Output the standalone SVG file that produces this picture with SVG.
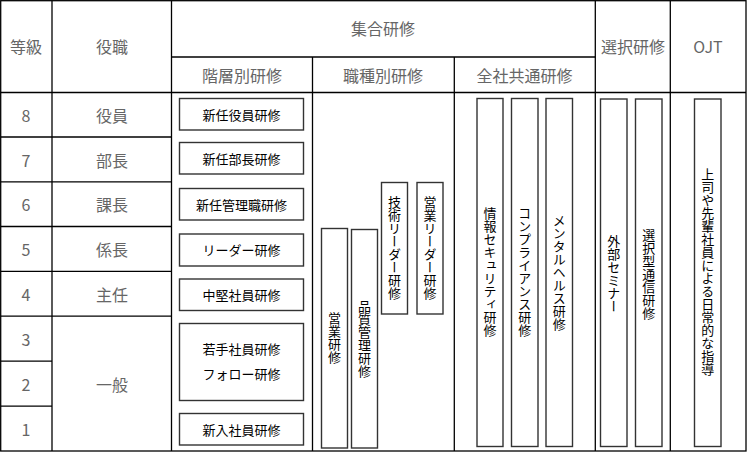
<svg xmlns="http://www.w3.org/2000/svg" width="747" height="453" viewBox="0 0 747 453">
<style>
.g{stroke:#000;stroke-width:1.3;fill:none}
.h{font-family:"Noto Sans CJK JP","Liberation Sans",sans-serif;font-size:16px;fill:#666;text-anchor:middle;dominant-baseline:central}
.b{fill:#fff;stroke:#333;stroke-width:1.4}
.t{font-family:"Noto Sans CJK JP","Liberation Sans",sans-serif;font-size:13px;fill:#000;text-anchor:middle;dominant-baseline:central}
.v{font-family:"Noto Sans CJK JP","Liberation Sans",sans-serif;font-size:13px;fill:#000;text-anchor:middle;writing-mode:vertical-rl}
</style>
<rect width="747" height="453" fill="#fff"/>
<g id="grid" class="g">
<rect x="0.7" y="0.7" width="745.3" height="450.3"/>
<line x1="52" y1="0.7" x2="52" y2="451"/>
<line x1="171.5" y1="0.7" x2="171.5" y2="451"/>
<line x1="312.5" y1="57" x2="312.5" y2="451"/>
<line x1="454.3" y1="57" x2="454.3" y2="451"/>
<line x1="595.3" y1="0.7" x2="595.3" y2="451"/>
<line x1="670.3" y1="0.7" x2="670.3" y2="451"/>
<line x1="171.5" y1="57" x2="595.3" y2="57"/>
<line x1="0.7" y1="92.5" x2="746" y2="92.5"/>
<line x1="0.7" y1="137" x2="171.5" y2="137"/>
<line x1="0.7" y1="181.8" x2="171.5" y2="181.8"/>
<line x1="0.7" y1="226.5" x2="171.5" y2="226.5"/>
<line x1="0.7" y1="271.3" x2="171.5" y2="271.3"/>
<line x1="0.7" y1="316.2" x2="171.5" y2="316.2"/>
<line x1="0.7" y1="361.2" x2="52" y2="361.2"/>
<line x1="0.7" y1="406.2" x2="52" y2="406.2"/>
</g>
<g id="headers">
<text class="h" x="26" y="46">等級</text>
<text class="h" x="112" y="46">役職</text>
<text class="h" x="383" y="28">集合研修</text>
<text class="h" x="242" y="75">階層別研修</text>
<text class="h" x="383" y="75">職種別研修</text>
<text class="h" x="524.5" y="75">全社共通研修</text>
<text class="h" x="633" y="46">選択研修</text>
<text class="h" x="708" y="46">OJT</text>
</g>
<g id="grades">
<text class="h" x="26" y="115">8</text>
<text class="h" x="26" y="159.5">7</text>
<text class="h" x="26" y="204">6</text>
<text class="h" x="26" y="249">5</text>
<text class="h" x="26" y="294">4</text>
<text class="h" x="26" y="339">3</text>
<text class="h" x="26" y="384">2</text>
<text class="h" x="26" y="429">1</text>
</g>
<g id="roles">
<text class="h" x="112" y="115">役員</text>
<text class="h" x="112" y="159.5">部長</text>
<text class="h" x="112" y="204">課長</text>
<text class="h" x="112" y="249">係長</text>
<text class="h" x="112" y="294">主任</text>
<text class="h" x="112" y="384">一般</text>
</g>
<g id="n-yakuin"><rect class="b" x="179.5" y="98.5" width="124" height="31.5"/><text class="t" x="241.5" y="114">新任役員研修</text></g>
<g id="n-bucho"><rect class="b" x="179.5" y="142.5" width="124" height="31.5"/><text class="t" x="241.5" y="158">新任部長研修</text></g>
<g id="n-kanri"><rect class="b" x="179.5" y="188.5" width="124" height="31.5"/><text class="t" x="241.5" y="204">新任管理職研修</text></g>
<g id="n-leader"><rect class="b" x="179.5" y="234" width="124" height="32"/><text class="t" x="241.5" y="249.5">リーダー研修</text></g>
<g id="n-chuken"><rect class="b" x="179.5" y="279" width="124" height="31.5"/><text class="t" x="241.5" y="294.5">中堅社員研修</text></g>
<g id="n-wakate"><rect class="b" x="179.5" y="323.5" width="124" height="77"/><text class="t" x="241.5" y="348">若手社員研修</text><text class="t" x="241.5" y="373">フォロー研修</text></g>
<g id="n-shinnyu"><rect class="b" x="179.5" y="413.5" width="124" height="31.5"/><text class="t" x="241.5" y="429">新入社員研修</text></g>
<g id="n-eigyo"><rect class="b" x="321.5" y="228.5" width="26" height="219.5"/><text class="v" x="334.5" y="338">営業研修</text></g>
<g id="n-hinshitsu"><rect class="b" x="351.5" y="229.5" width="26" height="218.5"/><text class="v" x="364.5" y="338.5">品質管理研修</text></g>
<g id="n-gijutsu"><rect class="b" x="381.5" y="182.5" width="26" height="131.5"/><text class="v" x="394.5" y="248">技術リーダー研修</text></g>
<g id="n-eigyoleader"><rect class="b" x="417" y="182.5" width="26" height="131.5"/><text class="v" x="430" y="248">営業リーダー研修</text></g>
<g id="n-security"><rect class="b" x="477" y="98.5" width="26" height="348"/><text class="v" x="490" y="272">情報セキュリティ研修</text></g>
<g id="n-compliance"><rect class="b" x="511.5" y="98.5" width="26.5" height="348"/><text class="v" x="524.7" y="272">コンプライアンス研修</text></g>
<g id="n-mental"><rect class="b" x="546" y="98.5" width="26.5" height="348"/><text class="v" x="559.2" y="272">メンタルヘルス研修</text></g>
<g id="n-seminar"><rect class="b" x="600.5" y="99" width="26.5" height="347.5"/><text class="v" x="613.7" y="274">外部セミナー</text></g>
<g id="n-tsushin"><rect class="b" x="635.5" y="99" width="26.5" height="347.5"/><text class="v" x="648.7" y="274">選択型通信研修</text></g>
<g id="n-ojt"><rect class="b" x="694.5" y="99" width="26.5" height="347.5"/><text class="v" x="707.7" y="272">上司や先輩社員による日常的な指導</text></g>
<g id="connectors"></g>
</svg>
